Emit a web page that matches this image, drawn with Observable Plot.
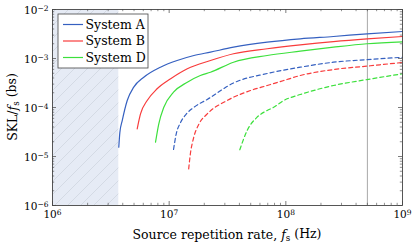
<!DOCTYPE html>
<html>
<head>
<meta charset="utf-8">
<script src="https://cdn.jsdelivr.net/npm/d3@7"></script>
<script src="https://cdn.jsdelivr.net/npm/@observablehq/plot@0.6"></script>
<style>
  html, body { margin: 0; padding: 0; background: #fff; }
  #chart svg { display: block; }
</style>
</head>
<body>
<div id="chart"></div>
<script>
// ---- data ----
const seriesNames = ["System A", "System B", "System D"];
const seriesColors = ["#3560c0", "#f83c3c", "#3ce03c"];

// solid curves
const rateA = [3.70e6, 3.78e6, 3.96e6, 4.37e6, 4.97e6, 6.06e6, 8.41e6, 1.17e7, 1.63e7, 2.26e7, 3.56e7, 6.92e7, 1.33e8, 2.56e8, 4.97e8, 1e9];
const sklA  = [1.55e-5, 3.1e-5, 5.4e-5, 1.39e-4, 2.6e-4, 4.15e-4, 6.64e-4, 9.1e-4, 1.15e-3, 1.35e-3, 1.70e-3, 2.15e-3, 2.52e-3, 2.81e-3, 3.19e-3, 3.56e-3];
const rateB = [5.32e6, 5.68e6, 6.48e6, 7.88e6, 1.03e7, 1.43e7, 2.26e7, 3.56e7, 6.92e7, 1.33e8, 2.56e8, 4.97e8, 1e9];
const sklB  = [3.67e-5, 7.4e-5, 1.39e-4, 2.41e-4, 3.86e-4, 6.17e-4, 9.1e-4, 1.25e-3, 1.58e-3, 1.90e-3, 2.22e-3, 2.52e-3, 2.81e-3];
const rateD = [7.64e6, 8.15e6, 9.0e6, 1.09e7, 1.43e7, 1.85e7, 2.26e7, 3.56e7, 6.92e7, 1.33e8, 2.56e8, 4.97e8, 1e9];
const sklD  = [1.96e-5, 4.65e-5, 1.01e-4, 2.05e-4, 3.28e-4, 4.5e-4, 5.25e-4, 8.4e-4, 1.15e-3, 1.41e-3, 1.70e-3, 2.0e-3, 2.19e-3];

// dashed curves
const rateA2 = [1.09e7, 1.15e7, 1.25e7, 1.40e7, 1.63e7, 2.12e7, 3.56e7, 6.92e7, 1.33e8, 2.56e8, 4.97e8, 1e9];
const sklA2  = [1.39e-5, 2.9e-5, 4.9e-5, 7.3e-5, 1.01e-4, 1.46e-4, 3.16e-4, 4.94e-4, 6.64e-4, 8.4e-4, 9.5e-4, 1.06e-3];
const rateB2 = [1.47e7, 1.52e7, 1.62e7, 1.80e7, 2.12e7, 3.14e7, 4.97e7, 6.92e7, 9.6e7, 1.33e8, 2.56e8, 4.97e8, 1e9];
const sklB2  = [5.6e-6, 1.14e-5, 2.4e-5, 4.6e-5, 7.4e-5, 1.39e-4, 2.22e-4, 2.81e-4, 3.56e-4, 4.5e-4, 5.95e-4, 7.0e-4, 8.3e-4];
const rateD2 = [4.03e7, 4.66e7, 5.67e7, 6.92e7, 7.87e7, 9.6e7, 1.33e8, 2.56e8, 4.97e8, 1e9];
const sklD2  = [1.37e-5, 3.4e-5, 6.34e-5, 8.7e-5, 1.01e-4, 1.39e-4, 1.84e-4, 2.81e-4, 3.72e-4, 4.88e-4];

// shaded (hatched) region and reference line
const shadedFrom = 1e6, shadedTo = 3.7e6;
const refRate = 5e8;

// axes
const xDomain = [1e6, 1e9];
const yDomain = [1e-6, 1e-2];
const xMajor = [1e6, 1e7, 1e8, 1e9];
const yMajor = [1e-6, 1e-5, 1e-4, 1e-3, 1e-2];
const xMinor = [1e6, 1e7, 1e8].flatMap(b => [2,3,4,5,6,7,8,9].map(m => m * b));
const yMinor = [1e-6, 1e-5, 1e-4, 1e-3].flatMap(b => [2,3,4,5,6,7,8,9].map(m => m * b));

const xLabel = ["Source repetition rate, ", "f", "s", " (Hz)"];
const yLabel = ["SKL/", "f", "s", " (bs)"];

// ---- layout ----
const W = 415, H = 246;
const mL = 52, mR = 13, mT = 9, mB = 41;
const innerH = H - mT - mB, innerW = W - mL - mR;
const FONT = "'DejaVu Serif', 'Liberation Serif', serif";
const frameColor = "#454545";
const sup = d => "10^" + Math.round(Math.log10(d));

const curveOpts = {curve: "monotone-x", strokeWidth: 1.2};
const dash = "4,3";

const plot = Plot.plot({
  width: W, height: H,
  marginLeft: mL, marginRight: mR, marginTop: mT, marginBottom: mB,
  style: {fontFamily: FONT, fontSize: "10.5px", color: "#000", background: "#fff"},
  x: {type: "log", domain: xDomain, label: null},
  y: {type: "log", domain: yDomain, label: null},
  marks: [
    Plot.rect([0], {x1: () => shadedFrom, x2: () => shadedTo, fill: "#e6ebf5"}),
    Plot.rect([0], {x1: () => shadedFrom, x2: () => shadedTo, fill: "url(#hatch)"}),
    Plot.ruleX([refRate], {stroke: "#a8a8a8", strokeWidth: 1}),
    Plot.line(rateA, {x: rateA, y: sklA, stroke: seriesColors[0], ...curveOpts}),
    Plot.line(rateB, {x: rateB, y: sklB, stroke: seriesColors[1], ...curveOpts}),
    Plot.line(rateD, {x: rateD, y: sklD, stroke: seriesColors[2], ...curveOpts}),
    Plot.line(rateA2, {x: rateA2, y: sklA2, stroke: seriesColors[0], strokeDasharray: dash, ...curveOpts}),
    Plot.line(rateB2, {x: rateB2, y: sklB2, stroke: seriesColors[1], strokeDasharray: dash, ...curveOpts}),
    Plot.line(rateD2, {x: rateD2, y: sklD2, stroke: seriesColors[2], strokeDasharray: dash, ...curveOpts}),
    // inward ticks on all four sides
    Plot.tickX(xMajor, {x: d => d, insetTop: innerH - 4, stroke: frameColor, strokeWidth: 0.7}),
    Plot.tickX(xMajor, {x: d => d, insetBottom: innerH - 4, stroke: frameColor, strokeWidth: 0.7}),
    Plot.tickX(xMinor, {x: d => d, insetTop: innerH - 2.2, stroke: frameColor, strokeWidth: 0.6}),
    Plot.tickX(xMinor, {x: d => d, insetBottom: innerH - 2.2, stroke: frameColor, strokeWidth: 0.6}),
    Plot.tickY(yMajor, {y: d => d, insetRight: innerW - 4, stroke: frameColor, strokeWidth: 0.7}),
    Plot.tickY(yMajor, {y: d => d, insetLeft: innerW - 4, stroke: frameColor, strokeWidth: 0.7}),
    Plot.tickY(yMinor, {y: d => d, insetRight: innerW - 2.2, stroke: frameColor, strokeWidth: 0.6}),
    Plot.tickY(yMinor, {y: d => d, insetLeft: innerW - 2.2, stroke: frameColor, strokeWidth: 0.6}),
    Plot.axisX({ticks: xMajor, tickFormat: sup, tickSize: 0, tickPadding: 5, fontSize: 10.5, label: null}),
    Plot.axisY({ticks: yMajor, tickFormat: sup, tickSize: 0, tickPadding: 4, fontSize: 10.5, label: null, dy: 1}),
    Plot.frame({stroke: frameColor, strokeWidth: 0.9})
  ]
});

document.getElementById("chart").appendChild(plot);
const svg = d3.select(plot);

// hatch pattern
const defs = svg.insert("defs", ":first-child");
const pat = defs.append("pattern").attr("id", "hatch").attr("patternUnits", "userSpaceOnUse")
  .attr("width", 13).attr("height", 13);
pat.append("path").attr("d", "M-1,1 l2,-2 M0,13 l13,-13 M12,14 l2,-2")
  .attr("stroke", "#cdd2dc").attr("stroke-width", 0.7).attr("fill", "none");

// superscript tick labels
svg.selectAll('[aria-label="x-axis tick label"] text, [aria-label="y-axis tick label"] text').each(function() {
  const t = d3.select(this);
  const s = t.text();
  if (!s.includes("^")) return;
  const [base, exp] = s.split("^");
  t.text(base);
  t.append("tspan").attr("dy", "-0.45em").attr("font-size", "7.5px").text(exp.replace("-", "\u2212"));
});

// axis labels
function richLabel(g, parts, size) {
  const t = g.append("text").attr("font-family", FONT).attr("font-size", size).attr("fill", "#000")
    .attr("text-anchor", "middle");
  t.append("tspan").text(parts[0]);
  t.append("tspan").attr("font-style", "italic").text(parts[1]);
  t.append("tspan").attr("font-size", size * 0.7).attr("dy", "0.25em").text(parts[2]);
  t.append("tspan").attr("dy", "-0.25em").text(parts[3]);
  return t;
}
richLabel(svg.append("g").attr("transform", `translate(${mL + innerW / 2},${H - 7})`), xLabel, 12.5);
richLabel(svg.append("g").attr("transform", `translate(17,${mT + innerH / 2}) rotate(-90)`), yLabel, 12.5);

// legend
const lg = svg.append("g").attr("transform", "translate(58,14)");
lg.append("rect").attr("width", 90).attr("height", 54).attr("fill", "#fff")
  .attr("stroke", frameColor).attr("stroke-width", 0.8);
seriesNames.forEach((name, i) => {
  const yy = 10.5 + i * 16.5;
  lg.append("line").attr("x1", 5).attr("x2", 25).attr("y1", yy).attr("y2", yy)
    .attr("stroke", seriesColors[i]).attr("stroke-width", 1.2);
  lg.append("text").attr("x", 27.5).attr("y", yy).attr("dy", "0.35em").attr("text-anchor", "start")
    .attr("font-family", FONT).attr("font-size", 12.5).attr("fill", "#000").text(name);
});
</script>
</body>
</html>
